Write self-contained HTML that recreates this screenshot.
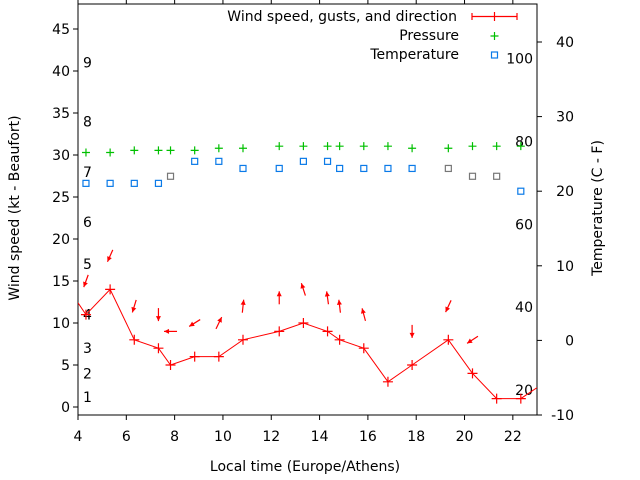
<!DOCTYPE html>
<html><head><meta charset="utf-8"><style>
body{margin:0;background:#fff}
svg{display:block;font-family:"DejaVu Sans","Liberation Sans",sans-serif}
</style></head><body>
<svg id="c" width="640" height="480" xmlns="http://www.w3.org/2000/svg"></svg>
<script>
const times=[4.33,5.33,6.33,7.33,7.83,8.83,9.83,10.83,12.33,13.33,14.33,14.83,15.83,16.83,17.83,19.33,20.33,21.33,22.33];
const wind=[11,14,8,7,5,6,6,8,9,10,9,8,7,3,5,8,4,1,1];
const windDir=[20,24,17,0,90,58,206,186,180,162,172,173,165,null,0,25,57,null,null];
const pressure=[30.3,30.3,30.55,30.55,30.55,30.55,30.8,30.8,31.05,31.05,31.05,31.05,31.05,31.05,30.8,30.8,31.05,31.05,31.05];
const tempC=[21.05,21.05,21.05,21.05,22,24,24,23.05,23.05,24,24,23.05,23.05,23.05,23.05,23.05,22,22,20];
const tempGray=[0,0,0,0,1,0,0,0,0,0,0,0,0,0,0,1,1,1,0];
const xTicks=[4,6,8,10,12,14,16,18,20,22];
const yTicks=[0,5,10,15,20,25,30,35,40,45];
const y2Ticks=[-10,0,10,20,30,40];
const beaufort=[[1,1.2],[2,4],[3,7],[4,11],[5,17],[6,22],[7,28],[8,34],[9,41]];
const fahr=[20,40,60,80,100];
const windStart=12.4, windEnd=2.3;

const L=78,R=537,T=4,B=415;
const X=h=>L+(h-4)*(R-L)/19;
const Y=v=>407-v*8.4;
const Y2=c=>415-(c+10)*7.46;
const svg=document.getElementById('c');
const NS='http://www.w3.org/2000/svg';
function mk(tag,attrs,parent){const e=document.createElementNS(NS,tag);for(const k in attrs)e.setAttribute(k,attrs[k]);(parent||svg).appendChild(e);return e;}
function txt(s,x,y,anchor,parent){const e=mk('text',{x:x,y:y,'font-size':14,'text-anchor':anchor,fill:'#000'},parent);e.textContent=s;return e;}

const frame=mk('path',{d:`M${L} ${T}V${B}H${R}V${T}H${L}`,fill:'none',stroke:'#000','stroke-width':1});



const xg=mk('g',{});


xTicks.forEach(t=>{const x=X(t);mk('line',{x1:x,y1:B,x2:x,y2:B+5,stroke:'#000'},xg);mk('line',{x1:x,y1:T,x2:x,y2:T-5,stroke:'#000'},xg);const e=txt(String(t),x,441,'middle',xg);});
const yg=mk('g',{});


yTicks.forEach(t=>{const y=Y(t);mk('line',{x1:L-5,y1:y,x2:L,y2:y,stroke:'#000'},yg);const e=txt(String(t),70,y+5,'end',yg);});
const y2g=mk('g',{});


y2Ticks.forEach(t=>{const y=Y2(t);mk('line',{x1:R,y1:y,x2:R+5,y2:y,stroke:'#000'},y2g);const e=txt(String(t),574,y+5,'end',y2g);});
beaufort.forEach(b=>{const e=txt(String(b[0]),83,Y(b[1])+5,'start');});
fahr.forEach(f=>{const e=txt(String(f),533,Y2((f-32)*5/9)+5,'end');});

let e=txt('Local time (Europe/Athens)',305,471,'middle');


e=mk('text',{x:0,y:0,'font-size':14,'text-anchor':'middle',transform:'translate(19,208) rotate(-90)'});e.textContent='Wind speed (kt - Beaufort)';


e=mk('text',{x:0,y:0,'font-size':14,'text-anchor':'middle',transform:'translate(602,208) rotate(-90)'});e.textContent='Temperature (C - F)';



const defs=mk('defs',{});const cp=mk('clipPath',{id:'cl'},defs);mk('rect',{x:L,y:T,width:R-L,height:B-T},cp);

pressure.forEach((p,i)=>{const x=X(times[i]),y=Y(p);const g=mk('path',{d:`M${x-4} ${y}h8M${x} ${y-4}v8`,stroke:'#00c000','stroke-width':1.2});

});
tempC.forEach((c,i)=>{const x=X(times[i]),y=Y2(c);const r=mk('rect',{x:x-3,y:y-3,width:6,height:6,fill:'none',stroke:tempGray[i]?'#777':'#0a7ae8','stroke-width':1.2});

});
let d=`M${X(4)} ${Y(windStart)}`;times.forEach((t,i)=>d+=`L${X(t)} ${Y(wind[i])}`);d+=`L${X(23)} ${Y(windEnd)}`;
const wl=mk('path',{d:d,fill:'none',stroke:'#f00','stroke-width':1,'clip-path':'url(#cl)'});


wind.forEach((w,i)=>{const x=X(times[i]),y=Y(w);const m=mk('path',{d:`M${x-5} ${y}h10M${x} ${y-5}v10`,stroke:'#f00','stroke-width':1.2});

});
windDir.forEach((dir,i)=>{if(dir===null)return;const h=(dir+180)*Math.PI/180;const dx=Math.sin(h),dy=-Math.cos(h);
const cx=X(times[i]),cy=Y(wind[i]+4),len=13;const tx=cx-dx*len/2,ty=cy-dy*len/2,hx=cx+dx*len/2,hy=cy+dy*len/2;
const px=-dy,py=dx;
const g=mk('g',{});


mk('line',{x1:tx,y1:ty,x2:hx,y2:hy,stroke:'#f00','stroke-width':1.2},g);
mk('polygon',{points:`${hx},${hy} ${hx-dx*5+px*2.5},${hy-dy*5+py*2.5} ${hx-dx*5-px*2.5},${hy-dy*5-py*2.5}`,fill:'#f00'},g);});

const lg=mk('g',{});


e=txt('Wind speed, gusts, and direction',457,21,'end',lg);


mk('path',{d:'M472 16.5H517M472 13v7M517 13v7M494.5 12v9',stroke:'#f00','stroke-width':1.2},lg);
e=txt('Pressure',459,40,'end',lg);


mk('path',{d:'M490.5 36h8M494.5 32v8',stroke:'#00c000','stroke-width':1.2},lg);
e=txt('Temperature',459,59,'end',lg);


mk('rect',{x:491.5,y:52,width:6,height:6,fill:'none',stroke:'#0a7ae8','stroke-width':1.2},lg);
</script>
</body></html>
